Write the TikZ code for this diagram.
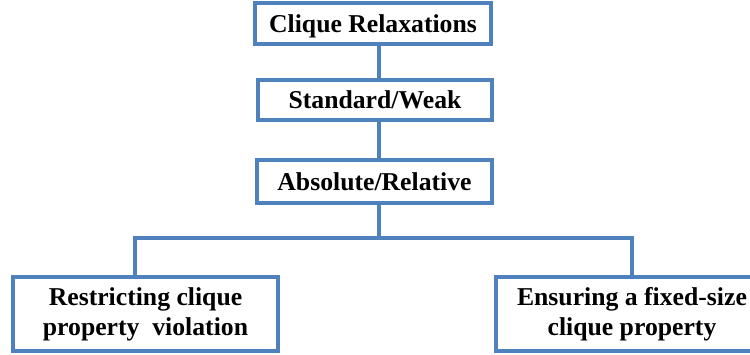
\documentclass[tikz,border=0pt]{standalone}
\usepackage{fontspec}
\setmainfont{Liberation Serif}
\definecolor{boxblue}{HTML}{4F81BD}
\newcommand{\twolines}[2]{\raisebox{-3pt}{\begin{tabular}{@{}c@{}}#1\\#2\end{tabular}}}
\begin{document}
\begin{tikzpicture}[x=1pt,y=-1pt,
  box/.style={draw=boxblue,line width=3.5pt,fill=white,inner sep=0pt,align=center,
    font=\fontsize{25.7}{30}\selectfont\bfseries},
  link/.style={draw=boxblue,line width=3.5pt}]
\useasboundingbox (0,0) rectangle (750,354);
\node[box,minimum width=236pt,minimum height=41pt,text depth=0pt] (b1) at (373,23.5) {Clique Relaxations};
\node[box,minimum width=234pt,minimum height=40pt] (b2) at (375,100) {Standard/Weak};
\node[box,minimum width=235pt,minimum height=43pt] (b3) at (374.5,181.5) {Absolute/Relative};
\node[box,minimum width=265pt,minimum height=74pt] (b4) at (145.5,314) {\twolines{Restricting clique}{property\ \ violation}};
\node[box,minimum width=272pt,minimum height=74pt] (b5) at (632,314) {\twolines{Ensuring a fixed-size}{clique property}};
\coordinate (j) at (379,238);
\coordinate (jl) at (135,238);
\coordinate (jr) at (632,238);
\draw[link] (b1.south -| j) -- (b2.north -| j);
\draw[link] (b2.south -| j) -- (b3.north -| j);
\draw[link] (b3.south -| j) -- (j);
\draw[link,line join=miter] (b4.north -| jl) -- (jl) -- (jr) -- (b5.north -| jr);
\end{tikzpicture}
\end{document}
